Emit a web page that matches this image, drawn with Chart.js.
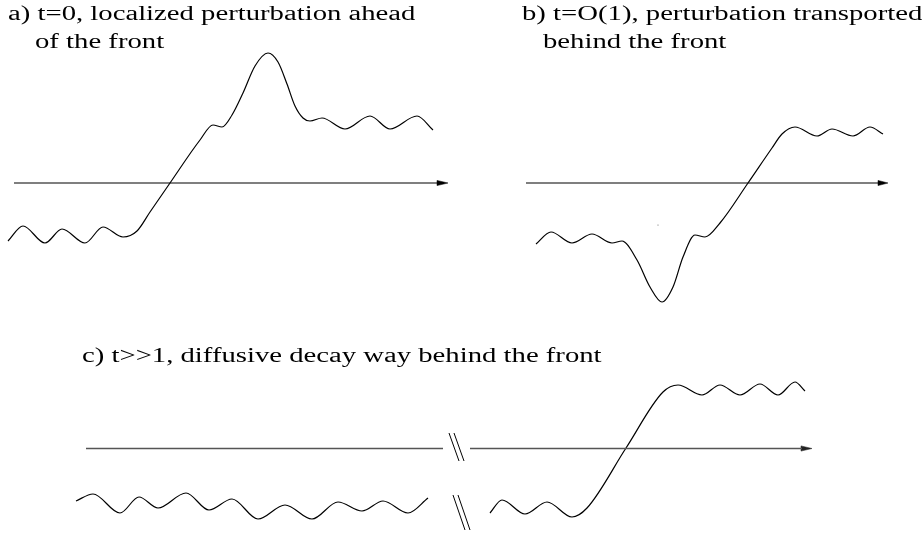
<!DOCTYPE html>
<html>
<head>
<meta charset="utf-8">
<script src="https://cdn.jsdelivr.net/npm/chart.js@4/dist/chart.umd.min.js"></script>
<style>
  html, body { margin: 0; padding: 0; background: #fff; }
  #wrap { position: relative; width: 922px; height: 533px; overflow: hidden; }
  canvas { position: absolute; left: 0; top: 0; }
  .t { position: absolute; font-family: "Liberation Serif", "Times New Roman", serif; font-size: 20.5px;
       line-height: 20px; color: #000; white-space: nowrap; transform: scaleX(1.4); transform-origin: 0 0; }
</style>
</head>
<body>
<div id="wrap">
  <canvas id="c" width="922" height="533"></canvas>
  <div class="t" style="left:8px;top:3px;">a) t=0, localized perturbation ahead</div>
  <div class="t" style="left:35px;top:31px;">of the front</div>
  <div class="t" style="left:522px;top:3px;">b) t=O(1), perturbation transported</div>
  <div class="t" style="left:543px;top:31px;">behind the front</div>
  <div class="t" style="left:82px;top:345px;">c) t&gt;&gt;1, diffusive decay way behind the front</div>
</div>
<script>
// Panel a: perturbation ahead of the front
const aX = [8, 23, 45, 62, 85, 103, 123, 137, 150, 170, 200, 213, 222, 232, 243, 255, 268, 278, 287, 295, 303, 310, 322, 345, 370, 390, 417, 433];
const aY = [241, 226, 243, 229, 243, 227, 237, 231, 212, 183, 140, 125, 127, 115, 93, 66, 53, 62, 84, 106, 118, 121, 118, 129, 116, 129, 116, 130];
// Panel b: perturbation behind the front
const bX = [536, 551, 572, 592, 612, 622, 637, 650, 662, 673, 683, 695, 705, 720, 748, 772, 782, 795, 817, 832, 853, 870, 883];
const bY = [244, 232, 243, 234, 243, 241, 260, 287, 302, 287, 257, 235, 237, 223, 183, 148, 134, 127, 136, 129, 136, 127, 134];
// Panel c: left (far behind) and right (front)
const cLX = [76, 93, 120, 139, 158, 186, 209, 232, 258, 285, 312, 338, 362, 383, 408, 428];
const cLY = [501, 494, 513, 497, 508, 493, 510, 499, 519, 505, 519, 502, 511, 501, 513, 498];
const cRX = [490, 502, 525, 547, 572, 587, 626, 663, 678, 702, 720, 740, 760, 778, 795, 805];
const cRY = [513, 500, 514, 502, 517, 508, 448, 392, 385, 395, 385, 395, 384, 395, 382, 391];
// Axes: [xStart, xEnd, y]
const axisA = [14, 440, 183];
const axisB = [526, 880, 183];
const axisCLeft = [86, 443, 448.5];
const axisCRight = [470, 802, 448.5];
// Arrow heads: [tipX, length, halfWidth, y]
const arrowA = [448, 11, 2.6, 183];
const arrowB = [888, 10, 2.6, 183];
const arrowC = [812, 11, 2.6, 448.5];
// Break marks: [x1, y1, x2, y2]
const breaks = [
  [449, 433, 459, 461], [454, 433, 464, 461],
  [453, 495, 465, 530], [458, 495, 470, 530]
];
// Stray dot seen in panel b
const strayDot = [{x: 658, y: 225}];

const pts = (xs, ys) => xs.map((x, i) => ({x, y: ys[i]}));
const curve = (xs, ys) => ({
  data: pts(xs, ys), borderColor: '#000', borderWidth: 1.2, pointRadius: 0,
  cubicInterpolationMode: 'monotone', fill: false
});
const seg = (p, color, w) => ({
  data: p, borderColor: color, borderWidth: w, pointRadius: 0, tension: 0, fill: false
});
const axisLine = (a, color, w) => seg([{x: a[0], y: a[2]}, {x: a[1], y: a[2]}], color, w);
const arrow = (a, color) => ({
  data: [{x: a[0] - a[1], y: a[3] - a[2]}, {x: a[0], y: a[3]}, {x: a[0] - a[1], y: a[3] + a[2]}, {x: a[0] - a[1], y: a[3] - a[2]}],
  borderColor: color, backgroundColor: color, borderWidth: 0.5, pointRadius: 0, tension: 0, fill: 'shape'
});

const datasets = [
  axisLine(axisA, '#000', 1.1), arrow(arrowA, '#000'),
  axisLine(axisB, '#000', 1.1), arrow(arrowB, '#000'),
  axisLine(axisCLeft, '#555', 1.4), axisLine(axisCRight, '#555', 1.4), arrow(arrowC, '#222'),
  ...breaks.map(b => seg([{x: b[0], y: b[1]}, {x: b[2], y: b[3]}], '#000', 1)),
  curve(aX, aY), curve(bX, bY), curve(cLX, cLY), curve(cRX, cRY),
  { data: strayDot, showLine: false, pointRadius: 0.6, pointBorderWidth: 0, pointBackgroundColor: '#666', borderColor: '#666' }
];

new Chart(document.getElementById('c'), {
  type: 'line',
  data: { datasets },
  options: {
    responsive: false, animation: false,
    layout: { padding: 0, autoPadding: false },
    plugins: { legend: { display: false }, tooltip: { enabled: false }, title: { display: false } },
    scales: {
      x: { type: 'linear', min: 0, max: 922, display: false },
      y: { type: 'linear', min: 0, max: 533, reverse: true, display: false }
    }
  }
});
</script>
</body>
</html>
